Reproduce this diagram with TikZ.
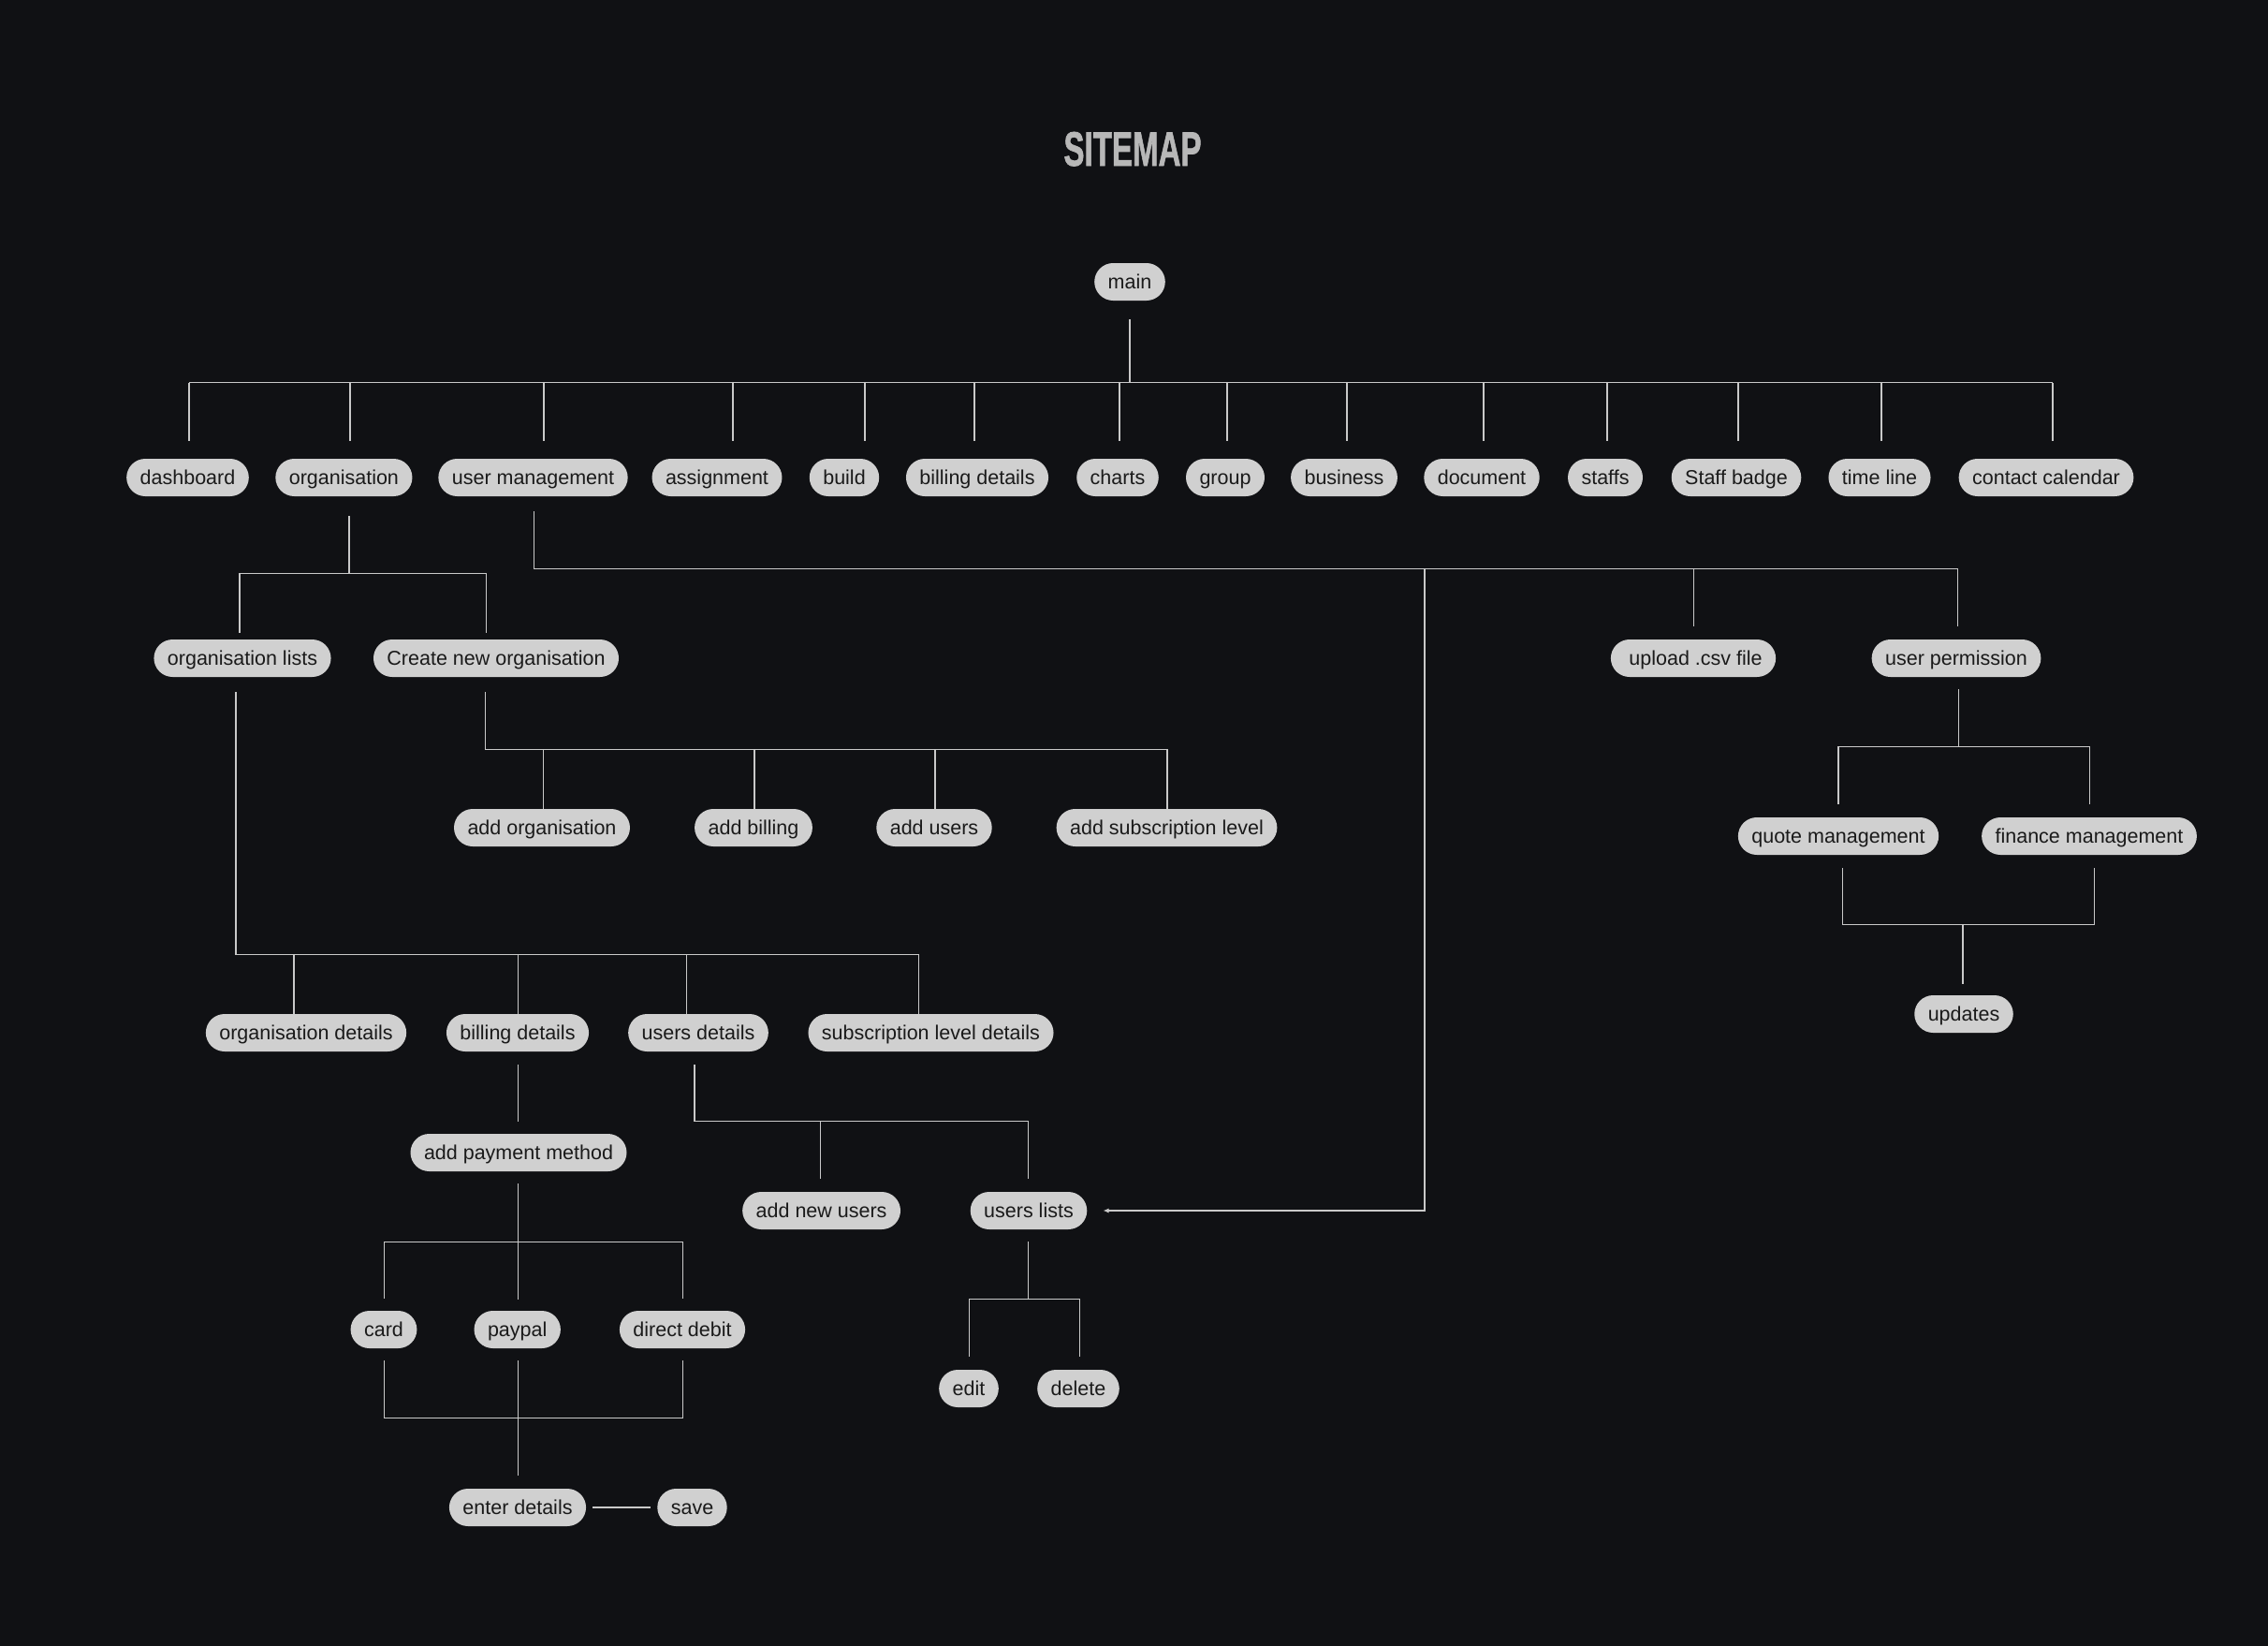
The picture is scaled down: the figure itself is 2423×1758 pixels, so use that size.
\documentclass[tikz,border=0pt]{standalone}
\usepackage{fontspec}
\setmainfont{Liberation Sans}
\newfontfamily\sitemaptitlefont[FakeBold=1.6]{Liberation Sans Bold}
\usetikzlibrary{calc,arrows.meta}
\definecolor{bg}{HTML}{101114}
\definecolor{pillfill}{HTML}{D0D0D0}
\definecolor{pilltext}{HTML}{1A1A1A}
\definecolor{wire}{HTML}{C9C9C9}
\definecolor{titlecol}{HTML}{B8B8B8}
\begin{document}
\begin{tikzpicture}[x=1pt,y=-1pt,
  pill/.style={fill=pillfill, text=pilltext, rounded corners=20pt,
    minimum height=40pt, inner xsep=14.5pt, inner ysep=0pt,
    text height=16pt, text depth=2pt, font=\fontsize{21.5}{24}\selectfont},
  link/.style={draw=wire, line width=1.1pt},
  titlestyle/.style={text=titlecol, inner sep=0pt, text height=37pt, text depth=0pt,
    font=\fontsize{51.7}{54}\selectfont\sitemaptitlefont}]
\fill[bg] (0,0) rectangle (2423,1758);
\useasboundingbox (0,0) rectangle (2423,1758);

% title
\node[titlestyle] (title) at (1210,158.5) {\scalebox{0.64}[1]{SITEMAP}};

% nodes
\node[pill] (main) at (1207,301) {main};

\node[pill] (dash) at (200.5,510) {dashboard};
\node[pill] (org) at (367.4,510) {organisation};
\node[pill] (um) at (569.5,510) {user management};
\node[pill] (assign) at (766,510) {assignment};
\node[pill] (build) at (902,510) {build};
\node[pill] (bill) at (1044,510) {billing details};
\node[pill] (charts) at (1194,510) {charts};
\node[pill] (group) at (1309,510) {group};
\node[pill] (business) at (1436,510) {business};
\node[pill] (document) at (1583,510) {document};
\node[pill] (staffs) at (1715,510) {staffs};
\node[pill] (badge) at (1855,510) {Staff badge};
\node[pill] (timeline) at (2008,510) {time line};
\node[pill] (contact) at (2186,510) {contact calendar};

\node[pill] (orglists) at (259,703) {organisation lists};
\node[pill] (createorg) at (530,703) {Create new organisation};
\node[pill] (upload) at (1809,703) {\hspace*{5pt}upload .csv file};
\node[pill] (userperm) at (2090,703) {user permission};

\node[pill] (addorg) at (579,884) {add organisation};
\node[pill] (addbill) at (805,884) {add billing};
\node[pill] (addusers) at (998,884) {add users};
\node[pill] (addsub) at (1246.5,884) {add subscription level};

\node[pill] (quote) at (1964,893) {quote management};
\node[pill] (finance) at (2232,893) {finance management};
\node[pill] (updates) at (2098,1083) {updates};

\node[pill] (orgdet) at (327,1103) {organisation details};
\node[pill] (billdet) at (553,1103) {billing details};
\node[pill] (usersdet) at (746,1103) {users details};
\node[pill] (subdet) at (994.5,1103) {subscription level details};

\node[pill] (addpay) at (554,1231) {add payment method};
\node[pill] (addnew) at (877.6,1293) {add new users};
\node[pill] (userslist) at (1099,1293) {users lists};

\node[pill] (card) at (410,1420) {card};
\node[pill] (paypal) at (552.7,1420) {paypal};
\node[pill] (ddebit) at (729,1420) {direct debit};

\node[pill] (edit) at (1035,1483) {edit};
\node[pill] (delete) at (1152,1483) {delete};

\node[pill] (enter) at (553,1610) {enter details};
\node[pill] (save) at (739.5,1610) {save};

% main -> row 1
\draw[link] ($(main.south)+(0,20)$) -- ($(main.south)+(0,88)$);
\draw[link] ($(dash.north)+(1.5,-81)$) -- ($(contact.north)+(7,-81)$);
\foreach \n/\d in {dash/1.5, org/6.6, um/11.5, assign/17, build/22, bill/-3,
  charts/2, group/2, business/3, document/2, staffs/2, badge/2, timeline/2, contact/7}
  \draw[link] ($(\n.north)+(\d,-19)$) -- ++(0,-62);

% organisation -> lists / create
\draw[link] ($(org.south)+(5.6,21)$) -- ($(org.south)+(5.6,83)$);
\draw[link] ($(orglists.north)+(-3,-7)$) |- ($(createorg.north)+(-10.7,-70)$) -- ($(createorg.north)+(-10.7,-7)$);

% user management -> upload / permission / users lists
\draw[link] ($(um.south)+(0.8,16)$) |- ($(userperm.north)+(1.8,-75)$) -- ($(userperm.north)+(1.8,-14)$);
\draw[link] ($(upload.north)+(0.5,-14)$) -- ++(0,-61);
\draw[link,-{Latex[length=6pt,width=5pt]}] ($(userslist.center)+(423,-685)$) |- ($(userslist.east)+(17,0)$);

% create new organisation -> row 3
\draw[link] ($(createorg.south)+(-11.6,16)$) |- ($(addsub.north)+(0.5,-63)$) -- ($(addsub.north)+(0.5,0)$);
\foreach \n/\d in {addorg/1.3, addbill/1, addusers/1}
  \draw[link] ($(\n.north)+(\d,0)$) -- ++(0,-63);

% organisation lists -> row 4
\draw[link] ($(orglists.south)+(-7,16)$) |- ($(subdet.north)+(-13.1,-63)$) -- ($(subdet.north)+(-13.1,0)$);
\foreach \n/\d in {orgdet/-13, billdet/0.6, usersdet/-12.6}
  \draw[link] ($(\n.north)+(\d,0)$) -- ++(0,-63);

% user permission -> quote / finance
\draw[link] ($(userperm.south)+(2.6,13)$) -- ++(0,62);
\draw[link] ($(quote.north)+(0,-14)$) |- ($(finance.north)+(0.7,-75)$) -- ($(finance.north)+(0.7,-14)$);

% quote / finance -> updates
\draw[link] ($(quote.south)+(4.7,14)$) |- ($(finance.south)+(5.6,74.5)$) -- ($(finance.south)+(5.6,14)$);
\draw[link] ($(updates.north)+(-1,-12)$) -- ++(0,-63);

% billing details -> add payment method
\draw[link] ($(billdet.south)+(0.7,14)$) -- ($(addpay.north)+(-0.3,-13.3)$);

% users details -> add new users / users lists
\draw[link] ($(usersdet.south)+(-4,14)$) |- ($(userslist.north)+(-0.6,-75)$) -- ($(userslist.north)+(-0.6,-14)$);
\draw[link] ($(addnew.north)+(-1.3,-14)$) -- ++(0,-61);

% add payment method -> card / paypal / direct debit
\draw[link] ($(addpay.south)+(-0.3,13)$) -- ++(0,63);
\draw[link] ($(card.north)+(0.8,-13.3)$) |- ($(ddebit.north)+(0.3,-73.3)$) -- ($(ddebit.north)+(0.3,-13.3)$);
\draw[link] ($(paypal.north)+(1,-12.3)$) -- ++(0,-61);

% card / paypal / direct debit -> enter details
\draw[link] ($(card.south)+(0.8,13)$) |- ($(ddebit.south)+(0.3,74.3)$) -- ($(ddebit.south)+(0.3,13)$);
\draw[link] ($(paypal.south)+(1,13)$) -- ($(enter.north)+(0.7,-14)$);

% enter details -> save
\draw[link] ($(enter.east)+(7,0)$) -- ($(save.west)+(-7,0)$);

% users lists -> edit / delete
\draw[link] ($(userslist.south)+(-0.6,13)$) -- ++(0,62);
\draw[link] ($(edit.north)+(0.8,-14)$) |- ($(delete.north)+(1.5,-75)$) -- ($(delete.north)+(1.5,-14)$);
\end{tikzpicture}
\end{document}
